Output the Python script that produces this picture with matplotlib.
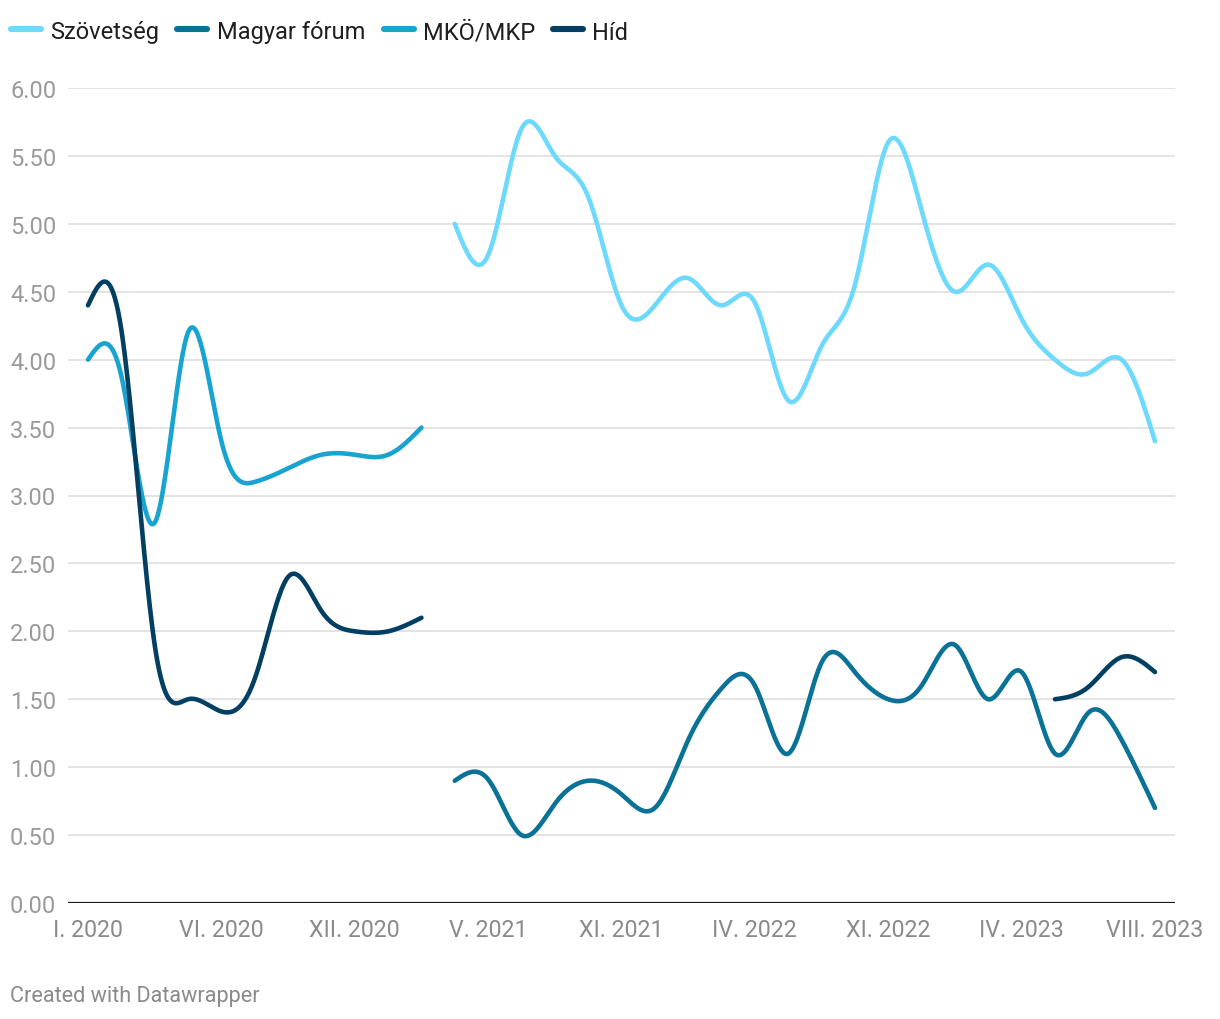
import numpy as np
import matplotlib
matplotlib.use("Agg")
import matplotlib.pyplot as plt
from matplotlib.lines import Line2D

# ---------------- data ----------------
n_points = 33
tick_idx = [0, 4, 8, 12, 16, 20, 24, 28, 32]
tick_labels = ["I. 2020", "VI. 2020", "XII. 2020", "V. 2021", "XI. 2021",
               "IV. 2022", "XI. 2022", "IV. 2023", "VIII. 2023"]

# index ranges where each series has values
szov_idx = list(range(11, 33))
szov_val = [5.0, 4.77, 5.7, 5.5, 5.2, 4.4, 4.4, 4.6, 4.4, 4.42, 3.7,
            4.1, 4.55, 5.6, 5.1, 4.5, 4.7, 4.3, 4.0, 3.9, 4.0, 3.4]

mf_idx = list(range(11, 33))
mf_val = [0.9, 0.91, 0.5, 0.73, 0.9, 0.8, 0.7, 1.2, 1.58, 1.6, 1.1,
          1.77, 1.7, 1.5, 1.6, 1.9, 1.5, 1.7, 1.1, 1.4, 1.2, 0.7]

mko_idx = list(range(0, 11))
mko_val = [4.0, 3.88, 2.8, 4.2, 3.4, 3.1, 3.2, 3.3, 3.3, 3.3, 3.5]

hid_idx_a = list(range(0, 11))
hid_val_a = [4.4, 4.22, 1.9, 1.5, 1.41, 1.65, 2.4, 2.15, 2.0, 2.0, 2.1]
hid_idx_b = list(range(29, 33))
hid_val_b = [1.5, 1.59, 1.81, 1.7]

series_names = ["Szövetség", "Magyar fórum", "MKÖ/MKP", "Híd"]
colors = ["#6cd9fd", "#0a7197", "#19a3d0", "#033f62"]

y_ticks = [0, 0.5, 1, 1.5, 2, 2.5, 3, 3.5, 4, 4.5, 5, 5.5, 6]


def natural_spline(x, y, num=40):
    x = np.asarray(x, float)
    y = np.asarray(y, float)
    n = len(x)
    if n < 3:
        return x, y
    h = np.diff(x)
    A = np.zeros((n, n))
    b = np.zeros(n)
    A[0, 0] = 1
    A[-1, -1] = 1
    for i in range(1, n - 1):
        A[i, i - 1] = h[i - 1]
        A[i, i] = 2 * (h[i - 1] + h[i])
        A[i, i + 1] = h[i]
        b[i] = 6 * ((y[i + 1] - y[i]) / h[i] - (y[i] - y[i - 1]) / h[i - 1])
    M = np.linalg.solve(A, b)
    xs, ys = [], []
    for i in range(n - 1):
        t = np.linspace(x[i], x[i + 1], num, endpoint=(i == n - 2))
        a = x[i + 1] - t
        c = t - x[i]
        s = (M[i] * a ** 3 + M[i + 1] * c ** 3) / (6 * h[i]) \
            + (y[i] / h[i] - M[i] * h[i] / 6) * a \
            + (y[i + 1] / h[i] - M[i + 1] * h[i] / 6) * c
        xs.append(t)
        ys.append(s)
    return np.concatenate(xs), np.concatenate(ys)


plt.rcParams["font.family"] = ["Roboto", "DejaVu Sans"]

W, H = 1220, 1020
fig = plt.figure(figsize=(W / 100, H / 100), dpi=100)
ax_left, ax_right = 68, 1175
ax_top, ax_bottom = 89, 904
ax = fig.add_axes([ax_left / W, 1 - ax_bottom / H,
                   (ax_right - ax_left) / W, (ax_bottom - ax_top) / H])

x0_px, x32_px = 88, 1155
step = (x32_px - x0_px) / (n_points - 1)
ax.set_xlim(-(x0_px - ax_left) / step, (n_points - 1) + (ax_right - x32_px) / step)
ax.set_ylim(0, 6)

lw = 3.3
plot_sets = [
    (szov_idx, szov_val, colors[0]),
    (mf_idx, mf_val, colors[1]),
    (mko_idx, mko_val, colors[2]),
    (hid_idx_a, hid_val_a, colors[3]),
    (hid_idx_b, hid_val_b, colors[3]),
]
for xi, yv, col in plot_sets:
    sx, sy = natural_spline(xi, yv)
    ax.plot(sx, sy, color=col, lw=lw, solid_capstyle="round",
            solid_joinstyle="round", clip_on=False, zorder=3)

# grid
for yt in y_ticks[1:]:
    ax.axhline(yt, color="#e3e3e3", lw=1.4, zorder=1)
ax.axhline(0, color="#1a1a1a", lw=1.6, zorder=4)

for s in ax.spines.values():
    s.set_visible(False)
ax.set_yticks(y_ticks)
ax.set_yticklabels([f"{v:.2f}" for v in y_ticks])
ax.set_xticks(tick_idx)
ax.set_xticklabels(tick_labels)
ax.tick_params(axis="y", length=0, pad=8.5, labelsize=17, labelcolor="#9a9a9a")
ax.tick_params(axis="x", length=0, pad=11, labelsize=16.7, labelcolor="#8a8a8a")

# legend (manual, in figure pixel coordinates)
leg_line_x = [(11, 41), (177, 207), (384, 414), (553, 583)]
leg_text_x = [50, 217, 423, 592]
leg_y = 29.5
for (xa, xb), tx, name, col in zip(leg_line_x, leg_text_x, series_names, colors):
    fig.add_artist(Line2D([xa / W, xb / W], [1 - leg_y / H, 1 - leg_y / H],
                          transform=fig.transFigure, color=col, lw=4.4,
                          solid_capstyle="round"))
    fig.text(tx / W, 1 - 39.5 / H, name, fontsize=17, color="#1f1f1f",
             ha="left", va="baseline")

fig.text(10 / W, 1 - 997 / H, "Created with Datawrapper", fontsize=15.6,
         color="#8a8a8a", ha="left", va="center")

fig.savefig("out.png", dpi=100)
